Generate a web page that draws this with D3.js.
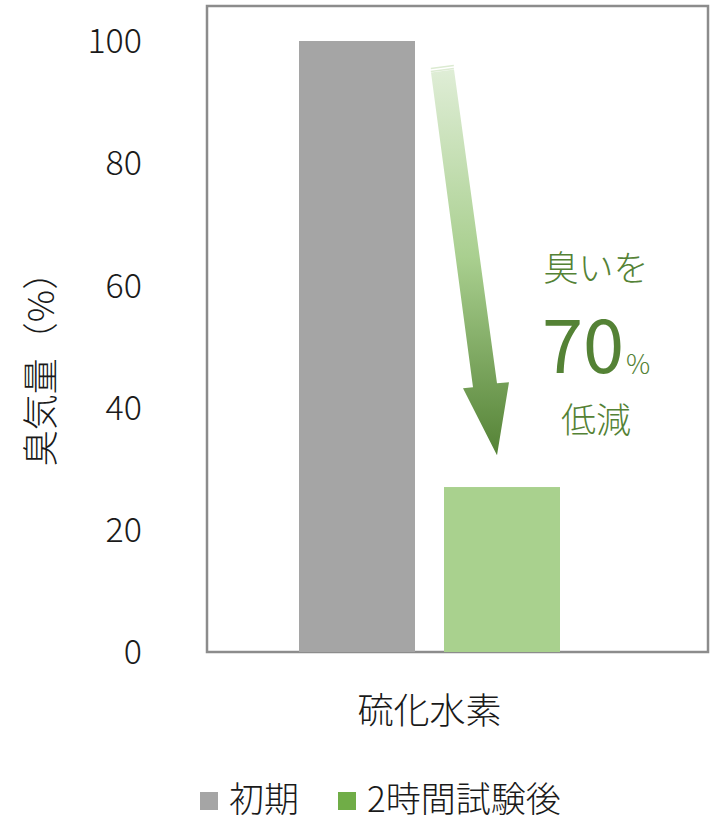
<!DOCTYPE html>
<html>
<head>
<meta charset="utf-8">
<script src="https://cdn.jsdelivr.net/npm/d3@7"></script>
<style>
body { margin: 0; background: #fff; }
text { font-family: "Noto Sans CJK JP", "Noto Sans", sans-serif; font-weight: 300; }
</style>
</head>
<body>
<svg id="chart" width="711" height="821"></svg>
<script>
// data
var category = "硫化水素";
var series = ["初期", "2時間試験後"];
var values = [100, 27];
var colors = ["#a5a5a5", "#a9d18e"];
var legendColors = ["#a5a5a5", "#70ad47"];
var yTicks = [0, 20, 40, 60, 80, 100];
var yTitle = "臭気量（%）";
var note = ["臭いを", "70", "%", "低減"];

var svg = d3.select("#chart");

// scales
var y = d3.scaleLinear().domain([0, 100]).range([652, 41]);
var x = d3.scaleBand().domain(series).range([299, 560]).paddingInner(0.2);

// plot frame
svg.append("rect")
	.attr("x", 207).attr("y", 6)
	.attr("width", 501).attr("height", 646)
	.attr("fill", "none")
	.attr("stroke", "#8c8c8c")
	.attr("stroke-width", 2.5);

// bars
svg.selectAll("rect.bar")
	.data(values)
	.enter().append("rect")
	.attr("class", "bar")
	.attr("x", function(d, i) { return x(series[i]); })
	.attr("y", function(d) { return y(d); })
	.attr("width", x.bandwidth())
	.attr("height", function(d) { return y(0) - y(d); })
	.attr("fill", function(d, i) { return colors[i]; });

// y tick labels
svg.selectAll("text.ytick")
	.data(yTicks)
	.enter().append("text")
	.attr("class", "ytick")
	.attr("x", 142)
	.attr("y", function(d) { return y(d); })
	.attr("dy", "0.36em")
	.attr("text-anchor", "end")
	.attr("font-size", 34)
	.attr("fill", "#1a1a1a")
	.text(function(d) { return d; });

// y title
svg.append("text")
	.attr("transform", "translate(54,360) rotate(-90)")
	.attr("text-anchor", "middle")
	.attr("font-size", 36)
	.attr("fill", "#1a1a1a")
	.text(yTitle);

// category label
svg.append("text")
	.attr("x", (x.range()[0] + x.range()[1]) / 2)
	.attr("y", 724)
	.attr("text-anchor", "middle")
	.attr("font-size", 36)
	.attr("fill", "#1a1a1a")
	.text(category);

// arrow gradient
var defs = svg.append("defs");
var grad = defs.append("linearGradient")
	.attr("id", "arrowGrad")
	.attr("gradientUnits", "userSpaceOnUse")
	.attr("x1", 0).attr("y1", y(97))
	.attr("x2", 0).attr("y2", y(32));
grad.append("stop").attr("offset", "0%").attr("stop-color", "#e2efda");
grad.append("stop").attr("offset", "50%").attr("stop-color", "#a9cf8f");
grad.append("stop").attr("offset", "100%").attr("stop-color", "#548235");

// arrow, positioned from the bar edges
var ax0 = x(series[0]) + x.bandwidth() + 16;
var tipX = x(series[1]) + 53;
var sTop = y(95), hY = y(43.5), tipY = y(32.2);
var arrow = [
	[ax0, sTop + 1], [ax0 + 23, sTop - 2],
	[tipX, hY - 3], [tipX + 12, hY - 4],
	[tipX, tipY],
	[tipX - 34, hY + 2], [tipX - 24, hY + 1]
];
svg.append("path")
	.attr("d", d3.line()(arrow) + "Z")
	.attr("fill", "url(#arrowGrad)");
// thin stripes on arrow top
[3, 6].forEach(function(off) {
	var yy = sTop - off;
	svg.append("path")
		.attr("d", d3.line()([[ax0 - 0.3, yy + 2.2], [ax0 + 22.7, yy - 0.8], [ax0 + 22.9, yy + 0.8], [ax0 - 0.1, yy + 3.8]]) + "Z")
		.attr("fill", "#dcebd2");
});

// annotation text
var noteColor = "#548235";
svg.append("text")
	.attr("x", 596).attr("y", 281)
	.attr("text-anchor", "middle")
	.attr("font-size", 35)
	.attr("fill", noteColor)
	.text(note[0]);
svg.append("text")
	.attr("x", 542).attr("y", 373)
	.attr("font-size", 74)
	.style("font-weight", 400)
	.attr("fill", noteColor)
	.text(note[1]);
svg.append("text")
	.attr("x", 626).attr("y", 374)
	.attr("font-size", 27)
	.attr("fill", noteColor)
	.text(note[2]);
svg.append("text")
	.attr("x", 596).attr("y", 433)
	.attr("text-anchor", "middle")
	.attr("font-size", 35)
	.attr("fill", noteColor)
	.text(note[3]);

// legend
var legendX = [200, 338];
var legend = svg.selectAll("g.legend")
	.data(series)
	.enter().append("g")
	.attr("class", "legend")
	.attr("transform", function(d, i) { return "translate(" + legendX[i] + ",0)"; });
legend.append("rect")
	.attr("x", 0).attr("y", 792)
	.attr("width", 18).attr("height", 18)
	.attr("fill", function(d, i) { return legendColors[i]; });
legend.append("text")
	.attr("x", 29).attr("y", 812)
	.attr("font-size", 35)
	.attr("fill", "#1a1a1a")
	.text(function(d) { return d; });
</script>
</body>
</html>
